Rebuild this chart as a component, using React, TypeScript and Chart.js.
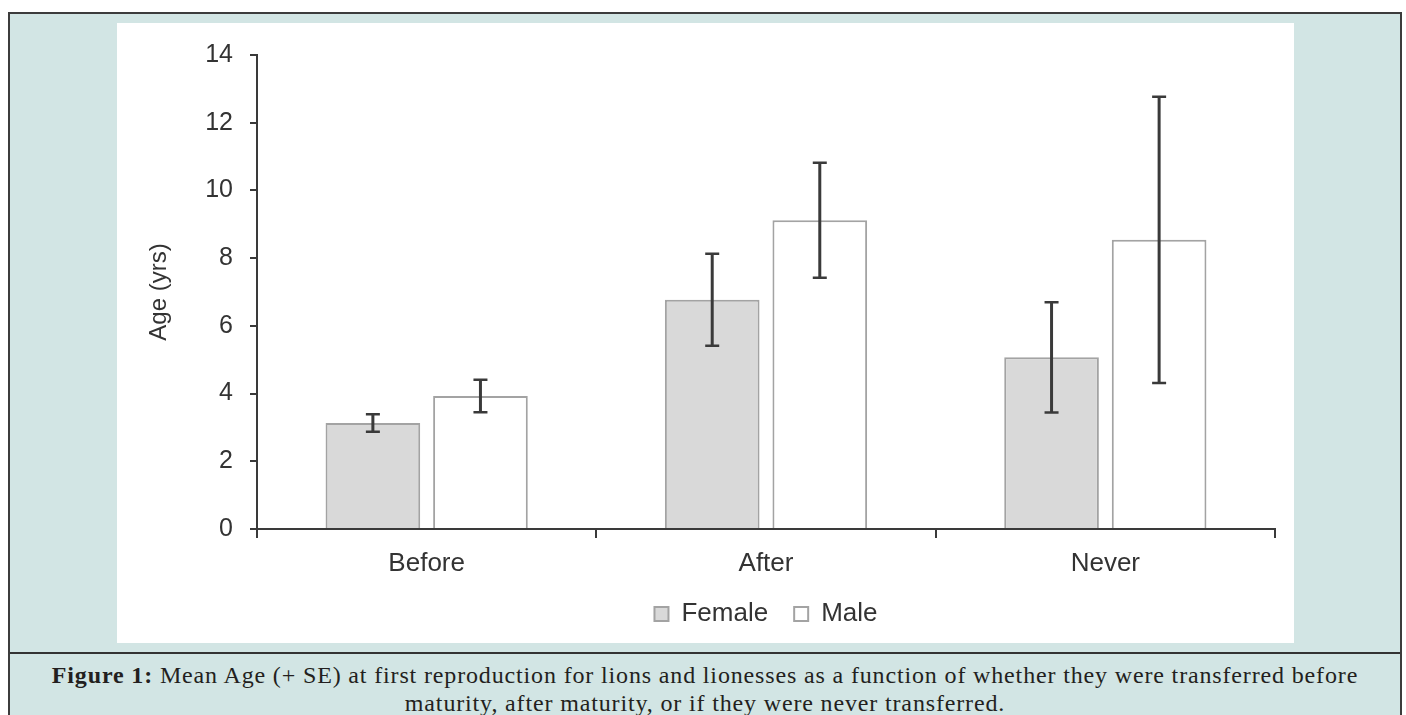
import React, { useEffect, useRef } from "react";
import { Chart, registerables } from "chart.js";

Chart.register(...registerables);

const categories = ["Before", "After", "Never"];
const seriesNames = ["Female", "Male"];
const femaleMeans = [3.13, 6.77, 5.07];
const maleMeans = [3.93, 9.12, 8.54];
const femaleSE = [0.26, 1.36, 1.63];
const maleSE = [0.48, 1.7, 4.23];
const yTicks = [0, 2, 4, 6, 8, 10, 12, 14];
const yTitle = "Age (yrs)";

const AXIS = "#3a3a3a";
const TEXT = "#333333";
const FONT = "'Liberation Sans', Arial, sans-serif";

const errorBarPlugin = {
  id: "errorBars",
  afterDatasetsDraw(chart: any) {
    const ctx = chart.ctx;
    const yScale = chart.scales.y;
    chart.data.datasets.forEach((ds: any, i: number) => {
      const meta = chart.getDatasetMeta(i);
      meta.data.forEach((bar: any, j: number) => {
        const v = ds.data[j];
        const e = ds.errors[j];
        const x = bar.x;
        const top = yScale.getPixelForValue(v + e);
        const bot = yScale.getPixelForValue(v - e);
        ctx.save();
        ctx.strokeStyle = AXIS;
        ctx.lineWidth = 3;
        ctx.beginPath();
        ctx.moveTo(x, top);
        ctx.lineTo(x, bot);
        ctx.stroke();
        ctx.lineWidth = 2.5;
        ctx.beginPath();
        ctx.moveTo(x - 7, top);
        ctx.lineTo(x + 7, top);
        ctx.moveTo(x - 7, bot);
        ctx.lineTo(x + 7, bot);
        ctx.stroke();
        ctx.restore();
      });
    });
  },
};

export default function App() {
  const ref = useRef<HTMLCanvasElement>(null);

  useEffect(() => {
    if (!ref.current) return;
    const chart = new Chart(ref.current, {
      type: "bar",
      data: {
        labels: categories,
        datasets: [
          {
            label: seriesNames[0],
            data: femaleMeans,
            errors: femaleSE,
            backgroundColor: "#d9d9d9",
            borderColor: "#a3a3a3",
            borderWidth: 2,
            categoryPercentage: 0.634,
            barPercentage: 0.88,
          } as any,
          {
            label: seriesNames[1],
            data: maleMeans,
            errors: maleSE,
            backgroundColor: "#ffffff",
            borderColor: "#a3a3a3",
            borderWidth: 2,
            categoryPercentage: 0.634,
            barPercentage: 0.88,
          } as any,
        ],
      },
      options: {
        responsive: false,
        animation: false,
        devicePixelRatio: 1,
        layout: { padding: { left: 0, right: 19, top: 26, bottom: 6 } },
        plugins: {
          tooltip: { enabled: false },
          legend: {
            position: "bottom",
            fullSize: false,
            labels: {
              boxWidth: 14,
              boxHeight: 14,
              padding: 26,
              color: TEXT,
              font: { family: FONT, size: 26 },
            },
          },
        },
        scales: {
          x: {
            grid: {
              display: true,
              offset: true,
              drawOnChartArea: false,
              drawTicks: true,
              tickLength: 9,
              color: AXIS,
              lineWidth: 2,
            },
            border: { display: true, color: AXIS, width: 2 },
            ticks: {
              color: TEXT,
              padding: 10,
              font: { family: FONT, size: 26 },
            },
            afterFit: (scale: any) => {
              scale.height = 46;
            },
          },
          y: {
            min: yTicks[0],
            max: yTicks[yTicks.length - 1],
            ticks: {
              stepSize: yTicks[1] - yTicks[0],
              color: TEXT,
              padding: 17,
              font: { family: FONT, size: 25 },
            },
            grid: {
              display: true,
              drawOnChartArea: false,
              drawTicks: true,
              tickLength: 7,
              color: AXIS,
              lineWidth: 2,
            },
            border: { display: true, color: AXIS, width: 2 },
            title: {
              display: true,
              text: yTitle,
              color: TEXT,
              padding: { top: 28, bottom: 0 },
              font: { family: FONT, size: 24 },
            },
            afterFit: (scale: any) => {
              scale.width = 140;
            },
          },
        },
      },
      plugins: [errorBarPlugin],
    });
    return () => chart.destroy();
  }, []);

  return (
    <div>
      <div
        style={{
          position: "fixed",
          left: 8,
          top: 12,
          width: 1394,
          height: 720,
          boxSizing: "border-box",
          borderTop: "2px solid #3c3c3c",
          borderLeft: "2px solid #3c3c3c",
          borderRight: "2px solid #3c3c3c",
          background: "#d2e5e4",
        }}
      />
      <div
        style={{
          position: "fixed",
          left: 117,
          top: 23,
          width: 1177,
          height: 620,
          background: "#ffffff",
        }}
      >
        <canvas ref={ref} width={1177} height={620} style={{ display: "block" }} />
      </div>
      <div
        style={{
          position: "fixed",
          left: 10,
          top: 652,
          width: 1390,
          height: 2,
          background: "#333333",
        }}
      />
      <div
        style={{
          position: "fixed",
          left: 10,
          top: 661,
          width: 1390,
          textAlign: "center",
          fontFamily: "'Liberation Serif', 'Times New Roman', serif",
          fontSize: 24,
          letterSpacing: "0.85px",
          lineHeight: "28px",
          color: "#231f20",
          whiteSpace: "nowrap",
        }}
      >
        <b>Figure 1:</b> Mean Age (+ SE) at first reproduction for lions and lionesses as a function of whether they were transferred before
        <br />
        maturity, after maturity, or if they were never transferred.
      </div>
    </div>
  );
}
